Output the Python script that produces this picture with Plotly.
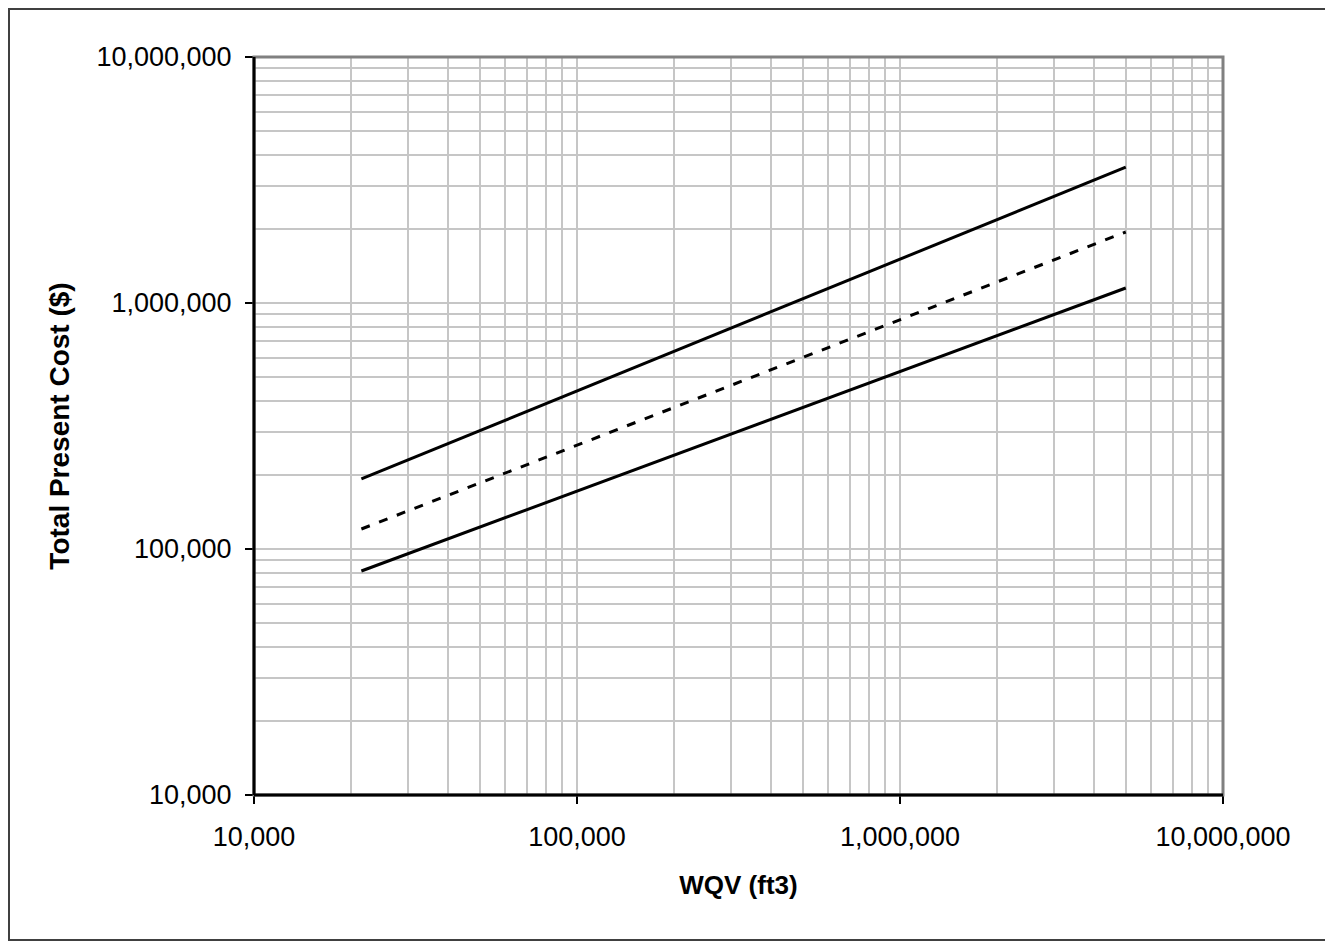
"""
Log-log cost curve: total present cost against water quality volume (WQV).

Three power-law lines: upper and lower bounds (solid) and the central
estimate (dashed), drawn on Excel-style log gridlines.
"""
import plotly.graph_objects as go

# ---------------------------------------------------------------------------
# Data
# ---------------------------------------------------------------------------
wqv_ft3 = [21500, 5000000]
cost_upper = [192600, 3570000]
cost_mid = [120600, 1944000]
cost_lower = [81400, 1151000]

x_title = "WQV (ft3)"
y_title = "Total Present Cost ($)"

# ---------------------------------------------------------------------------
# Layout constants (page body adds an 8px margin, so offsets are shifted)
# ---------------------------------------------------------------------------
W, H = 1333, 949
M_L, M_R, M_T, M_B = 246, 118, 49, 162
FONT = "Liberation Sans, Arial, sans-serif"
GRID = "#c6c6c6"

plot_w = W - M_L - M_R
plot_h = H - M_T - M_B


def px_to_paper_x(px):
    return (px - M_L) / plot_w


def px_to_paper_y(py):
    return (H - M_B - py) / plot_h


fig = go.Figure()

for y, dash in [(cost_upper, "solid"), (cost_mid, "9px,10px"), (cost_lower, "solid")]:
    fig.add_trace(go.Scatter(
        x=wqv_ft3, y=y,
        mode="lines",
        line=dict(color="black", width=3, dash=dash),
        hoverinfo="skip",
        showlegend=False,
    ))

axis_common = dict(
    type="log",
    range=[4, 7],
    dtick=1,
    tickformat=",.0f",
    ticks="outside",
    ticklen=8,
    tickwidth=2,
    tickcolor="black",
    showgrid=True,
    gridcolor=GRID,
    gridwidth=1.5,
    zeroline=False,
    showline=False,
    tickfont=dict(family=FONT, size=27, color="black"),
    minor=dict(dtick="D1", showgrid=True, gridcolor=GRID, gridwidth=1.5, ticks=""),
)

fig.update_layout(
    width=W, height=H,
    margin=dict(l=M_L, r=M_R, t=M_T, b=M_B, autoexpand=False),
    paper_bgcolor="white",
    plot_bgcolor="white",
    showlegend=False,
    xaxis=dict(
        **axis_common,
        ticklabelstandoff=10,
        title=dict(text=f"<b>{x_title}</b>", standoff=24,
                   font=dict(family=FONT, size=26, color="black")),
    ),
    yaxis=dict(
        **axis_common,
        ticklabelstandoff=8,
        title=dict(text=f"<b>{y_title}</b>", standoff=18,
                   font=dict(family=FONT, size=28, color="black")),
    ),
)

# plot-area border: grey top/right, black left/bottom
fig.add_shape(type="rect", xref="paper", yref="paper", x0=0, x1=1, y0=0, y1=1,
              line=dict(color="#808080", width=3), layer="above")
fig.add_shape(type="line", xref="paper", yref="paper", x0=0, x1=0, y0=0, y1=1,
              line=dict(color="black", width=3), layer="above")
fig.add_shape(type="line", xref="paper", yref="paper", x0=0, x1=1, y0=0, y1=0,
              line=dict(color="black", width=3), layer="above")

# outer chart frame
fig.add_shape(type="rect", xref="paper", yref="paper",
              x0=px_to_paper_x(1), x1=px_to_paper_x(1318),
              y0=px_to_paper_y(932), y1=px_to_paper_y(1),
              line=dict(color="#404040", width=2), layer="above")

fig.write_html("out.html")
